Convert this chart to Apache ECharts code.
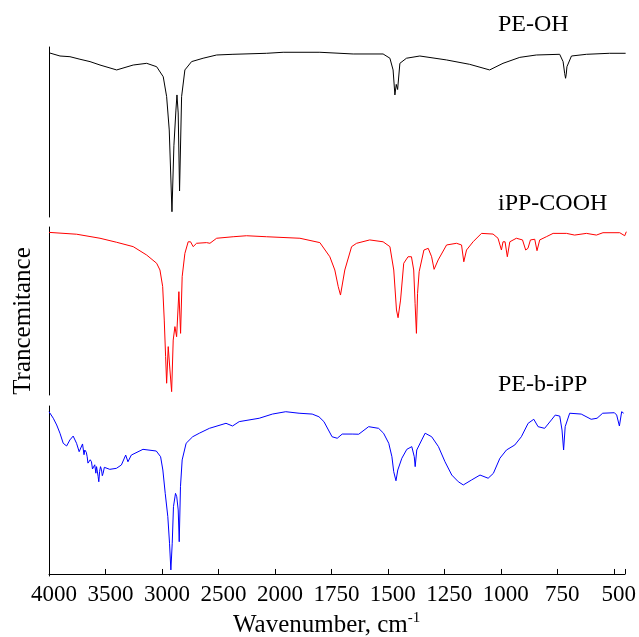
<!DOCTYPE html>
<html>
<head>
<meta charset="utf-8">
<script src="https://cdn.jsdelivr.net/npm/echarts@6/dist/echarts.min.js"></script>
<style>html,body{margin:0;padding:0;background:#fff}#c{width:639px;height:637px}</style>
</head>
<body>
<div id="c"></div>
<script>
// ---- tick labels of the broken wavenumber axis ----
const tickLabels = [4000, 3500, 3000, 2500, 2000, 1750, 1500, 1250, 1000, 750, 500];
const xMaxWn = 450;
const seriesNames = ['PE-OH', 'iPP-COOH', 'PE-b-iPP'];

// ---- PE-OH ----
const peOH_wn = [4000,3903,3815,3727,3638,3550,3403,3257,3138,3050,2992,2962,2939,2915,2898,2880,2871,2860,2848,2830,2801,2742,2640,2521,2377,2080,1967,1805,1658,1526,1496,1482,1474,1468,1462,1452,1423,1364,1247,1144,1056,997,923,850,747,732,725,721,718,715,695,629,527,456];
const peOH_T  = [96.6,94.7,94.3,92.8,91.4,89.4,86.5,89.4,90.4,88.4,82.5,70.8,51.2,3.1,41.9,62.9,71.8,61.2,15.3,70.8,86.5,91.4,93.4,95.3,95.7,96.3,96.9,96.9,95.9,95.9,93.4,86.5,71.8,78,75,90.4,93.4,94.7,92.4,89.8,86.5,90.4,93.9,95.3,95.7,91.4,84.5,81.6,84,88.4,94.7,95.7,96.3,96.3];

// ---- iPP-COOH ----
const ippCOOH_wn = [4000,3756,3550,3403,3257,3138,3050,3021,2997,2983,2971,2962,2948,2933,2918,2904,2889,2874,2854,2839,2825,2801,2772,2751,2728,2698,2610,2580,2521,2375,2257,2080,1893,1805,1761,1739,1724,1714,1695,1665,1643,1585,1526,1496,1479,1467,1460,1449,1435,1416,1401,1391,1385,1379,1374,1367,1346,1327,1312,1301,1283,1246,1202,1180,1170,1158,1129,1092,1041,1019,1004,997,988,978,967,938,911,897,887,876,857,847,835,806,776,717,681,629,585,556,482,460,453];
const ippCOOH_T  = [96.8,95.7,93.3,90.9,88.3,83.3,78.4,74.4,64.5,44.6,22.8,7.0,28.8,14.9,2.0,32.7,40.7,34.7,61.5,36.7,70.4,84.3,91.2,91.2,88.3,90.3,90.7,90.3,93.3,94.2,94.8,94.2,93.3,90.7,82.3,74.4,64.5,59.5,74.4,88.3,90.3,92.3,91.2,88.3,74.4,50.6,46.0,56.5,78.4,82.3,82.3,74.4,54.6,36.7,60.5,73.4,86.3,87.3,82.3,74.8,80.4,89.3,90.3,89.3,79.3,86.3,91.2,96.2,95.8,93.3,86.3,91.2,91.2,82.3,91.2,93.3,92.3,86.3,87.3,92.3,92.7,85.9,92.3,94.2,96.2,96.2,95.2,96.2,95.2,96.6,96.6,94.8,97.2];

// ---- PE-b-iPP ----
const peBiPP_wn = [4000,3962,3932,3903,3874,3844,3815,3786,3756,3733,3703,3690,3683,3670,3662,3655,3645,3635,3624,3615,3603,3595,3585,3579,3570,3565,3559,3552,3544,3535,3528,3521,3510,3497,3462,3403,3359,3321,3301,3271,3168,3050,3012,2992,2971,2948,2933,2921,2909,2898,2880,2869,2856,2847,2836,2821,2786,2728,2669,2580,2433,2375,2316,2139,2022,1952,1893,1835,1805,1783,1747,1724,1702,1658,1629,1585,1541,1519,1496,1482,1474,1464,1456,1438,1416,1394,1383,1379,1372,1350,1335,1306,1276,1247,1217,1188,1166,1129,1092,1056,1033,1004,975,938,909,879,854,835,806,776,759,739,729,722,715,695,644,600,574,549,497,487,475,465,456];
const peBiPP_T  = [96.6,92.7,88.7,83.8,77.8,76.2,79.8,82.1,77.8,72.8,77.4,71,73.8,72.5,69.8,66,64.9,68,66.8,62.5,61.9,65,60,63.9,64,58,54.9,61,63.9,62,58.5,59.9,63.5,62.9,62.3,62.9,64.9,70.8,66.8,70.8,74.2,73.2,69.8,61.9,48.0,34.1,18.3,2.4,18.3,40.1,48.0,46.0,38.1,19.2,52.0,67.9,77.8,81.7,83.8,86.7,89.7,88.1,90.7,92.7,95.2,96.6,95.7,95.2,93.6,90.7,81.7,80.8,83.3,83.3,83.2,87.7,86.7,83.8,77.8,69.8,60.9,55.5,61.9,68.9,74.2,75.8,69.8,63.9,73.8,79.8,83.8,81.7,75.8,66.8,58.9,54.9,53.0,56.0,58.9,57.0,59.9,68.9,73.8,76.8,81.7,89.7,92.1,87.7,86.7,91.7,94.6,94.0,85.7,73.8,87.7,95.7,95.2,92.1,92.7,95.7,96.0,94.6,88.1,96.6,95.7];

// ---- broken-axis transform: 4000-2000 at 500/unit, 2000-450 at 250/unit ----
function toU(w) { return w >= 2000 ? (4000 - w) / 500 : 4 + (2000 - w) / 250; }
function pts(wn, t) { return wn.map((w, i) => [toU(w), t[i]]); }

const FONT = 'Liberation Serif';
const chart = echarts.init(document.getElementById('c'), null, {renderer: 'canvas'});

const grids = [
  {left: 49, right: 12, top: 47, height: 170},
  {left: 49, right: 12, top: 227, height: 168},
  {left: 49, right: 12, top: 406, height: 170}
];
const xBase = {type: 'value', min: 0, max: toU(xMaxWn), interval: 1};
const xAxes = [
  Object.assign({}, xBase, {gridIndex: 0, show: false}),
  Object.assign({}, xBase, {gridIndex: 1, show: false}),
  Object.assign({}, xBase, {gridIndex: 2,
    axisLine: {show: true, lineStyle: {color: '#000', width: 1}},
    axisTick: {show: true, inside: true, length: 5, lineStyle: {color: '#000'}},
    splitLine: {show: false},
    axisLabel: {show: true, color: '#000', fontFamily: FONT, fontSize: 23, margin: 7, padding: [0, 0, 0, 10],
      formatter: function (v) { return Number.isInteger(v) && tickLabels[v] !== undefined ? String(tickLabels[v]) : ''; }}
  })
];
const yBase = {type: 'value', max: 100, axisLine: {show: true, lineStyle: {color: '#000', width: 1}},
  axisTick: {show: false}, axisLabel: {show: false}, splitLine: {show: false}};
const yAxes = [
  Object.assign({}, yBase, {gridIndex: 0, min: 0}),
  Object.assign({}, yBase, {gridIndex: 1, min: 0}),
  Object.assign({}, yBase, {gridIndex: 2, min: -1.2})
];
function line(i, data, color) {
  return {type: 'line', name: seriesNames[i], xAxisIndex: i, yAxisIndex: i, data: data, showSymbol: false,
    lineStyle: {color: color, width: 1}, itemStyle: {color: color}, silent: true};
}
chart.setOption({
  animation: false,
  backgroundColor: '#fff',
  grid: grids,
  xAxis: xAxes,
  yAxis: yAxes,
  series: [
    line(0, pts(peOH_wn, peOH_T), '#000000'),
    line(1, pts(ippCOOH_wn, ippCOOH_T), '#ff0000'),
    line(2, pts(peBiPP_wn, peBiPP_T), '#0000ff')
  ],
  graphic: [
    {type: 'text', x: 498, y: 25, style: {text: seriesNames[0], font: '24px "' + FONT + '"', fill: '#000', align: 'left', verticalAlign: 'middle'}},
    {type: 'text', x: 498, y: 204, style: {text: seriesNames[1], font: '24px "' + FONT + '"', fill: '#000', align: 'left', verticalAlign: 'middle'}},
    {type: 'text', x: 498, y: 385, style: {text: seriesNames[2], font: '24px "' + FONT + '"', fill: '#000', align: 'left', verticalAlign: 'middle'}},
    {type: 'text', x: 23, y: 321, rotation: Math.PI / 2, style: {text: 'Trancemitance', font: '25px "' + FONT + '"', fill: '#000', align: 'center', verticalAlign: 'middle'}},
    {type: 'text', x: 233, y: 625, style: {text: '{a|Wavenumber, cm}{s|-1}', fill: '#000', align: 'left', verticalAlign: 'middle',
      rich: {a: {fontFamily: FONT, fontSize: 25, lineHeight: 28, verticalAlign: 'middle'},
             s: {fontFamily: FONT, fontSize: 15, lineHeight: 15, verticalAlign: 'top'}}}}
  ]
});
</script>
</body>
</html>
